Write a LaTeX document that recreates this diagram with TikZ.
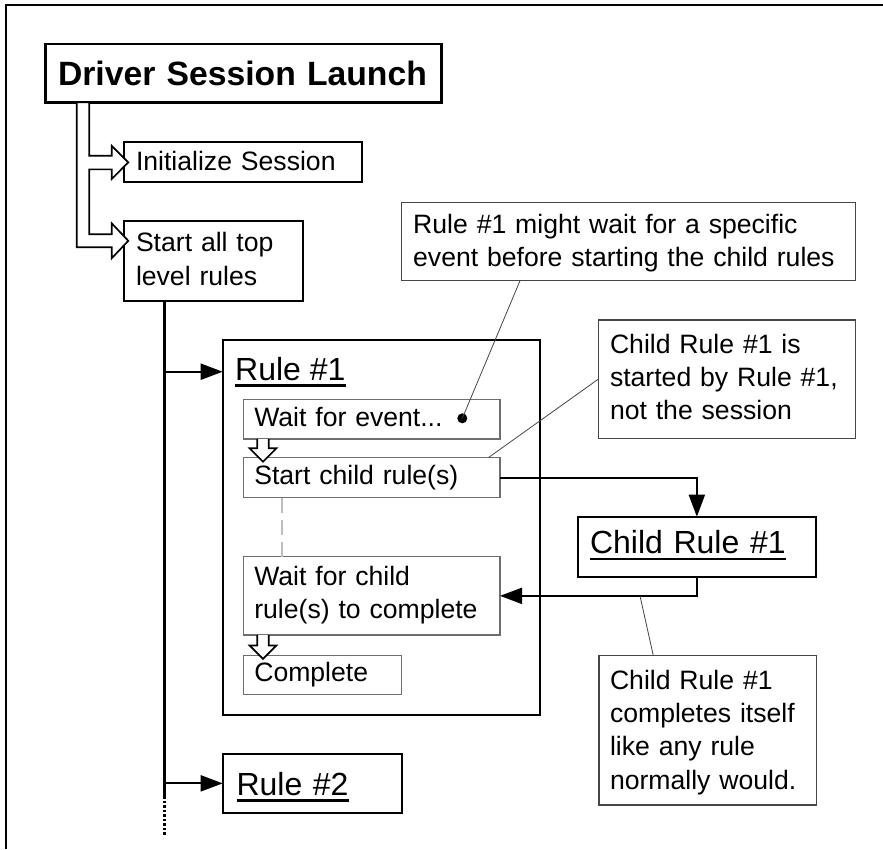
\documentclass[tikz,border=0pt]{standalone}
\usepackage{fontspec}
\setmainfont{Liberation Sans}
\usetikzlibrary{arrows.meta,calc}
% underlined title: a thick rule under the whole word
\newcommand\titleul[1]{\setbox0\hbox{#1}\rlap{\rule[-6.6pt]{\wd0}{2.2pt}}\box0}
\definecolor{innergray}{RGB}{110,110,110}
\definecolor{notegray}{RGB}{70,70,70}
\definecolor{dashgray}{RGB}{190,190,190}
\begin{document}
\begin{tikzpicture}[x=1pt,y=-1pt,
  basefont/.style={font=\fontsize{26.6}{33.3}\selectfont},
  titlefont/.style={font=\fontsize{32}{38}\selectfont},
  anybox/.style={draw, anchor=north west, inner ysep=0pt, outer sep=0pt, align=left, basefont},
  mainbox/.style={anybox, line width=1.8pt},
  subbox/.style={anybox, draw=innergray, line width=1.5pt},
  notebox/.style={anybox, draw=notegray, line width=1.1pt},
  fatarrow/.style={draw=black, fill=white, line width=1.7pt, line join=miter},
  flow/.style={line width=2pt, -{Triangle[length=22pt,width=16pt]}},
  trunkline/.style={line width=2.7pt},
  leader/.style={draw=notegray, line width=0.8pt},
  dashline/.style={draw=dashgray, line width=2pt, dash pattern=on 15pt off 7pt}]

\useasboundingbox (0,0) rectangle (883,849);
\fill[white] (0,0) rectangle (883,849);

% frame edges
\draw[line width=2.5pt] (6,849) -- (6,5) -- (883,5);

% session level
\node[mainbox, line width=2.7pt, font=\fontsize{33.7}{40}\selectfont\bfseries,
  text width=371.4pt, inner xsep=12.3pt, text height=41pt, text depth=17.3pt]
  (launch) at (45.7,44) {Driver Session Launch};
\node[mainbox, text width=214.3pt, inner xsep=11.7pt, text height=29pt, text depth=11.3pt]
  (init) at (124.3,141.7) {Initialize Session};
\node[mainbox, text width=155pt, inner xsep=11.7pt, text height=31pt, text depth=49pt]
  (startall) at (124.3,220.7) {Start all top\\level rules};

% notes
\node[notebox, text width=431pt, inner xsep=11.5pt, text height=30.8pt, text depth=47.4pt]
  (note1) at (401.7,202.5) {Rule \#1 might wait for a specific\\event before starting the child rules};
\node[notebox, text width=234pt, inner xsep=11.7pt, text height=33.3pt, text depth=85pt]
  (note2) at (598.3,320) {Child Rule \#1 is\\started by Rule \#1,\\not the session};
\node[notebox, text width=195.7pt, inner xsep=11pt, text height=33.6pt, text depth=115.7pt]
  (note3) at (599,655.7) {Child Rule \#1\\completes itself\\like any rule\\normally would.};

% rule #1 and its steps
\node[draw, line width=2pt, anchor=north west, inner sep=0pt, outer sep=0pt,
  minimum width=317.3pt, minimum height=375pt] (rule1) at (222.7,340) {};
\node[anchor=base west, inner sep=0pt, titlefont] (r1title)
  at ($(rule1.north west)+(12.3,40)$) {\titleul{Rule \#1}};
\node[subbox, text width=234.7pt, inner xsep=11pt, text height=27.4pt, text depth=12.3pt]
  (wait) at (243.3,399.3) {Wait for event...};
\node[subbox, text width=234.7pt, inner xsep=11pt, text height=26.3pt, text depth=13.7pt]
  (startchild) at (243.3,457.7) {Start child rule(s)};
\node[subbox, text width=234.7pt, inner xsep=11pt, text height=28.3pt, text depth=50pt]
  (waitchild) at (243.3,556.7) {Wait for child\\rule(s) to complete};
\node[subbox, text width=136.4pt, inner xsep=11pt, text height=25.3pt, text depth=13.3pt]
  (complete) at (243.3,655.7) {Complete};

% child rule and rule #2
\node[mainbox, line width=2.2pt, titlefont, text width=213.7pt, inner xsep=12.3pt,
  text height=36.6pt, text depth=23.4pt]
  (child) at (577.7,516.7) {\titleul{Child Rule \#1}};
\node[mainbox, line width=2pt, titlefont, text width=151.2pt, inner xsep=13.8pt,
  text height=41pt, text depth=17.7pt]
  (rule2) at (222.7,754) {\titleul{Rule \#2}};

% fat arrows from the launch box
\coordinate (fa) at ($(launch.south west)+(31,0)$);
\coordinate (fb) at ($(launch.south west)+(43.6,0)$);
\coordinate (tip1) at ($(init.west)+(4,0.5)$);
\coordinate (tip2) at ($(startall.north west)+(4,20.1)$);
\coordinate (s1t) at ($(tip1)+(-16.6,-6.6)$);
\coordinate (s1b) at ($(tip1)+(-16.6,7)$);
\coordinate (s2t) at ($(tip2)+(-16.6,-6.5)$);
\coordinate (s2b) at ($(tip2)+(-16.6,6.5)$);
\draw[fatarrow] (fb) -- (fb |- s1t) -- (s1t) -- ++(0,-10) -- (tip1) -- ++(-16.6,16.7)
  -- (s1b) -- (fb |- s1b) -- (fb |- s2t) -- (s2t) -- ++(0,-11) -- (tip2)
  -- ++(-16.6,17.5) -- (s2b) -- (fa |- s2b) -- (fa) -- cycle;

% small fat arrows between steps
\draw[fatarrow] ($(wait.south west)+(13.9,0)$) -- ++(0,9.3) -- ++(-7.6,0) -- ++(13.4,13.4)
  -- ++(13.4,-13.4) -- ++(-7.6,0) -- ++(0,-9.3);
\draw[fatarrow] ($(waitchild.south west)+(13.9,0)$) -- ++(0,10.5) -- ++(-7.6,0) -- ++(13.4,13.4)
  -- ++(13.4,-13.4) -- ++(-7.6,0) -- ++(0,-10.5);

% trunk of top level rules
\coordinate (trunk) at ($(startall.south west)+(40,0)$);
\coordinate (trunkcut) at ($(trunk |- rule2.west)+(0,13)$);
\coordinate (trunkend) at ($(trunkcut)+(0,39)$);
\draw[trunkline] (trunk) -- (trunkcut);
\draw[line width=2.7pt, dash pattern=on 2.5pt off 2pt] (trunkcut) -- (trunkend);
\coordinate (r1in) at ($(rule1.north west)+(0,31.7)$);
\draw[flow] (trunk |- r1in) -- (r1in);
\draw[flow] (trunk |- rule2.west) -- (rule2.west);

% child rule start and return
\draw[flow] (startchild.east) -| (child.north);
\draw[flow] (child.south) |- (waitchild.east);

% dashed link between the waiting steps
\draw[dashline] ($(startchild.south west)+(39,0)$) -- ($(waitchild.north west)+(39,0)$);

% leaders
\coordinate (evdot) at ($(wait.north west)+(219,19)$);
\fill (evdot) circle (5);
\draw[leader] ($(note1.south west)+(118.3,0)$) -- (evdot);
\draw[leader] (note2.west) -- ($(startchild.north east)+(-11.7,0)$);
\coordinate (retpt) at ($(child.south west |- waitchild.east)+(62.3,0)$);
\draw[leader] ($(note3.north west)+(54.3,0)$) -- (retpt);
\end{tikzpicture}
\end{document}
